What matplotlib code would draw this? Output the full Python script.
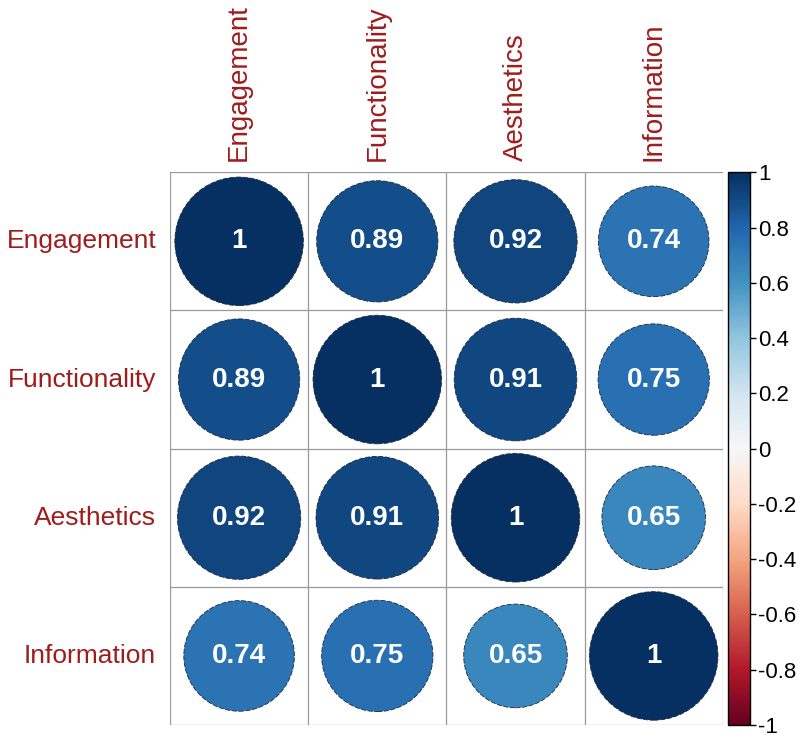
import numpy as np
import matplotlib.pyplot as plt
from matplotlib.patches import Circle
from matplotlib import cm, colors

plt.rcParams['font.family'] = ['Liberation Sans', 'DejaVu Sans']

labels = ['Engagement', 'Functionality', 'Aesthetics', 'Information']
corr = np.array([
    [1.00, 0.89, 0.92, 0.74],
    [0.89, 1.00, 0.91, 0.75],
    [0.92, 0.91, 1.00, 0.65],
    [0.74, 0.75, 0.65, 1.00],
])
cbar_ticks = [-1, -0.8, -0.6, -0.4, -0.2, 0, 0.2, 0.4, 0.6, 0.8, 1]

cmap = plt.get_cmap('RdBu')
norm = colors.Normalize(vmin=-1, vmax=1)
lab_col = '#A01C1C'

fig = plt.figure(figsize=(8, 7.43), dpi=100)
ax = fig.add_axes([0.2125, 0.0242, 0.691, 0.744])
n = len(labels)
for i in range(n):
    for j in range(n):
        v = corr[i, j]
        x, y = j + 0.5, n - i - 0.5
        r = 0.465 * np.sqrt(abs(v))
        ax.add_patch(Circle((x, y), r, facecolor=cmap(norm(v)),
                            edgecolor='#1a2a40', lw=0.6, ls=(0, (6, 2))))
        txt = '1' if v == 1 else f'{v:.2f}'
        ax.text(x, y, txt, ha='center', va='center', color='white',
                fontsize=20, fontweight='bold')

for k in range(n + 1):
    ax.axhline(k, color='#999999', lw=0.9)
    ax.axvline(k, color='#999999', lw=0.9)
ax.set_xlim(0, n)
ax.set_ylim(0, n)
ax.set_aspect('auto')
ax.set_xticks([])
ax.set_yticks([])
for s in ax.spines.values():
    s.set_visible(False)

for k, name in enumerate(labels):
    ax.text(k + 0.5, n + 0.08, name, rotation=90, ha='center', va='bottom',
            color=lab_col, fontsize=20)
    ax.text(-0.1, n - k - 0.5, name, ha='right', va='center',
            color=lab_col, fontsize=19)

cax = fig.add_axes([0.91, 0.0242, 0.0275, 0.744])
cb = fig.colorbar(cm.ScalarMappable(norm=norm, cmap=cmap), cax=cax, ticks=cbar_ticks)
cb.ax.set_yticklabels(['%g' % t for t in cbar_ticks], fontsize=16)
cb.ax.tick_params(length=4, width=1, direction='out', pad=2)
cb.outline.set_linewidth(1)

fig.savefig('out.png', dpi=100)
